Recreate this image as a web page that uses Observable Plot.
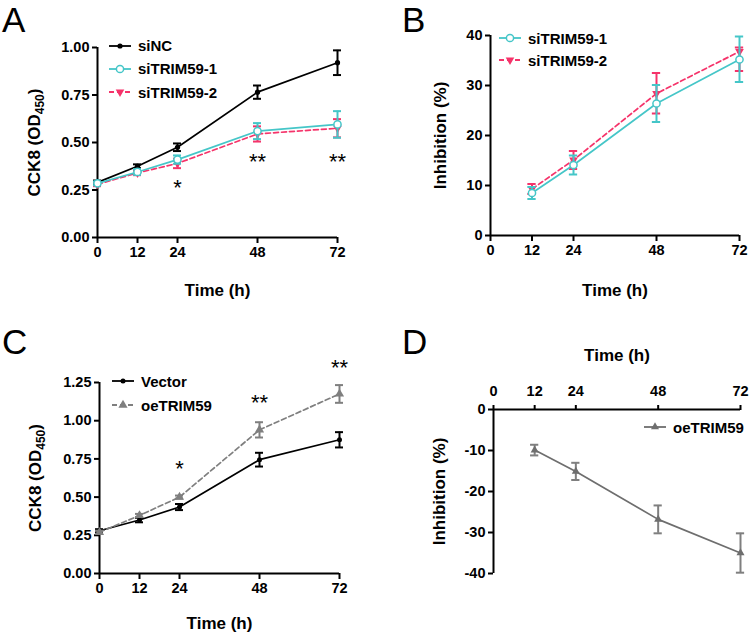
<!DOCTYPE html>
<html>
<head>
<meta charset="utf-8">
<script src="https://cdn.jsdelivr.net/npm/d3@7"></script>
<script src="https://cdn.jsdelivr.net/npm/@observablehq/plot@0.6"></script>
<style>
  html, body { margin: 0; padding: 0; background: #fff; }
  #root { position: relative; width: 750px; height: 633px; overflow: hidden; font-family: "Liberation Sans", Arial, sans-serif; }
  .panel { position: absolute; }
  .letter { position: absolute; font-size: 35px; font-weight: normal; line-height: 40px; color: #000; z-index: 2; }
  .legend { position: absolute; font-weight: bold; font-size: 15px; color: #000; z-index: 2; }
  .legend .row { display: flex; align-items: center; }
  .legend svg { margin-right: 7px; overflow: visible; }
</style>
</head>
<body>
<div id="root"></div>
<script>
// ---------- Data ----------
const timeA = [0, 12, 24, 48, 72];
const siNC = [0.29, 0.375, 0.475, 0.765, 0.92];
const siNC_sd = [0.01, 0.01, 0.02, 0.035, 0.065];
const siTRIM59_1 = [0.285, 0.345, 0.41, 0.56, 0.595];
const siTRIM59_1_sd = [0.01, 0.015, 0.022, 0.042, 0.07];
const siTRIM59_2 = [0.28, 0.34, 0.39, 0.545, 0.575];
const siTRIM59_2_sd = [0.01, 0.012, 0.025, 0.04, 0.048];
const starTimesA = [24, 48, 72];
const starYA = [0.26, 0.40, 0.40];
const starLabelsA = ["*", "**", "**"];

const timeB = [12, 24, 48, 72];
const inh1 = [8.5, 14.1, 26.4, 35.2];
const inh1_lo = [7.3, 12.2, 22.7, 30.7];
const inh1_hi = [9.7, 16.0, 30.1, 39.8];
const inh2 = [9.3, 15.1, 28.4, 36.8];
const inh2_lo = [8.3, 13.3, 24.4, 32.9];
const inh2_hi = [10.3, 16.9, 32.5, 37.6];

const timeC = [0, 12, 24, 48, 72];
const vector = [0.28, 0.35, 0.435, 0.745, 0.875];
const vector_sd = [0.01, 0.015, 0.02, 0.045, 0.05];
const oeTRIM59 = [0.27, 0.38, 0.50, 0.94, 1.175];
const oeTRIM59_sd = [0.01, 0.01, 0.01, 0.05, 0.058];
const starTimesC = [24, 48, 72];
const starYC = [0.685, 1.117, 1.348];
const starLabelsC = ["*", "**", "**"];

const timeD = [12, 24, 48, 72];
const inhD = [-9.9, -15.1, -26.8, -35.0];
const inhD_sd = [1.3, 2.1, 3.4, 4.8];

const timeTicks = [0, 12, 24, 48, 72];
const ticksA = [0, 0.25, 0.5, 0.75, 1.0];
const ticksB = [0, 10, 20, 30, 40];
const ticksC = [0, 0.25, 0.5, 0.75, 1.0, 1.25];
const ticksD = [-40, -30, -20, -10, 0];

// colours
const BLACK = "#000000", CYAN = "#45c6c8", PINK = "#f5336a", GREY = "#7f7f7f", DGREY = "#6e6e6e";

// ---------- helpers ----------
const sym = (t, v, sd) => t.map((x, i) => ({t: x, v: v[i], lo: v[i] - sd[i], hi: v[i] + sd[i]}));
const asym = (t, v, lo, hi) => t.map((x, i) => ({t: x, v: v[i], lo: lo[i], hi: hi[i]}));
const stars = (t, y, l) => t.map((x, i) => ({t: x, y: y[i], label: l[i]}));
const CAP = 1.2;

function seriesMarks(data, s) {
  return [
    Plot.line(data, {x: "t", y: "v", stroke: s.color, strokeWidth: 1.7, strokeDasharray: s.dash || null}),
    Plot.ruleX(data, {x: "t", y1: "lo", y2: "hi", stroke: s.errColor || s.color, strokeWidth: 2}),
    Plot.ruleY(data, {y: "lo", x1: d => d.t - CAP, x2: d => d.t + CAP, stroke: s.errColor || s.color, strokeWidth: 2}),
    Plot.ruleY(data, {y: "hi", x1: d => d.t - CAP, x2: d => d.t + CAP, stroke: s.errColor || s.color, strokeWidth: 2}),
    Plot.dot(data, {x: "t", y: "v", symbol: s.symbol, r: s.r, fill: s.open ? "white" : s.color,
      stroke: s.color, strokeWidth: s.open ? 1.5 : 0, rotate: s.rotate || 0})
  ];
}

function makePlot(o) {
  const xAnchor = o.xAnchor || "bottom";
  const svg = Plot.plot({
    width: o.width, height: o.height,
    marginLeft: o.ml, marginRight: o.mr, marginTop: o.mt, marginBottom: o.mb,
    style: {fontFamily: '"Liberation Sans", Arial, sans-serif', fontWeight: "bold", fontSize: "14.5px", color: "#000", background: "transparent", overflow: "visible"},
    x: {domain: [0, 72]},
    y: {domain: o.yDomain},
    marks: [
      Plot.axisX(timeTicks, {anchor: xAnchor, tickSize: o.xTickSize || 6, tickPadding: o.xTickPadding || 3, strokeWidth: 2, label: "Time (h)", labelAnchor: "center", labelOffset: o.xLabelOffset, tickFormat: d => String(d)}),
      Plot.axisY(o.yTicks, {anchor: "left", tickSize: 5, tickPadding: 3, strokeWidth: 2, label: o.yLabel, labelAnchor: "center", labelOffset: o.yLabelOffset, tickFormat: o.yFormat}),
      Plot.ruleX([0], {stroke: "#000", strokeWidth: 2}),
      Plot.ruleY([o.xAxisAt], {stroke: "#000", strokeWidth: 2}),
      ...o.marks
    ]
  });
  // axis titles: no arrows, larger type
  const xl = svg.querySelector('g[aria-label="x-axis label"] text');
  if (xl) { xl.style.fontSize = "17px"; xl.textContent = "Time (h)"; }
  const yl = svg.querySelector('g[aria-label="y-axis label"] text');
  if (yl) {
    yl.style.fontSize = "17px";
    if (o.yLabelHTML) yl.innerHTML = o.yLabelHTML;
    else yl.textContent = o.yLabel;
  }
  return svg;
}

function legend(items, left, top, rowH) {
  const div = document.createElement("div");
  div.className = "legend";
  div.style.left = left + "px";
  div.style.top = top + "px";
  for (const it of items) {
    const row = document.createElement("div");
    row.className = "row";
    row.style.height = rowH + "px";
    const s = d3.create("svg").attr("width", 22).attr("height", 12);
    s.append("line").attr("x1", 0).attr("x2", 22).attr("y1", 6).attr("y2", 6)
      .attr("stroke", it.color).attr("stroke-width", 1.8).attr("stroke-dasharray", it.dash || null);
    const symType = it.symbol === "circle" ? d3.symbolCircle : d3.symbolTriangle;
    s.append("path").attr("d", d3.symbol(symType, Math.PI * it.r * it.r)())
      .attr("transform", `translate(11,6) rotate(${it.rotate || 0})`)
      .attr("fill", it.open ? "white" : it.color).attr("stroke", it.color).attr("stroke-width", it.open ? 1.5 : 0);
    row.appendChild(s.node());
    const t = document.createElement("span");
    t.textContent = it.label;
    row.appendChild(t);
    div.appendChild(row);
  }
  return div;
}

function panel(x, y, letter, lx, ly) {
  const d = document.createElement("div");
  d.className = "panel";
  d.style.left = x + "px"; d.style.top = y + "px";
  const L = document.createElement("div");
  L.className = "letter"; L.textContent = letter;
  L.style.left = lx + "px"; L.style.top = ly + "px";
  d.appendChild(L);
  document.getElementById("root").appendChild(d);
  return d;
}

const OD_LABEL = 'CCK8 (OD<tspan dy="4" font-size="12">450</tspan><tspan dy="-4">)</tspan>';

// series styles
const sNC = {color: BLACK, symbol: "circle", r: 2.6};
const s1 = {color: CYAN, symbol: "circle", r: 3.6, open: true};
const s2 = {color: PINK, symbol: "triangle", r: 3.2, rotate: 180, dash: "5,3"};
const sVec = {color: BLACK, symbol: "circle", r: 2.5};
const sOe = {color: GREY, symbol: "triangle", r: 3.4, dash: "5,3"};
const sD = {color: DGREY, symbol: "triangle", r: 3.0, errColor: GREY};

// ---------- Panel A ----------
{
  const p = panel(0, 0, "A", 2, 0);
  const svg = makePlot({
    width: 375, height: 310, ml: 97, mr: 38, mt: 47, mb: 73,
    yDomain: [0, 1], yTicks: ticksA, yFormat: d3.format(".2f"), xAxisAt: 0,
    yLabel: "CCK8 (OD450)", yLabelHTML: OD_LABEL, yLabelOffset: 70, xLabelOffset: 58,
    marks: [
      ...seriesMarks(sym(timeA, siNC, siNC_sd), sNC),
      ...seriesMarks(sym(timeA, siTRIM59_2, siTRIM59_2_sd), s2),
      ...seriesMarks(sym(timeA, siTRIM59_1, siTRIM59_1_sd), s1),
      Plot.text(stars(starTimesA, starYA, starLabelsA), {x: "t", y: "y", text: "label", fontSize: 22, fontWeight: "normal"})
    ]
  });
  p.appendChild(svg);
  p.appendChild(legend([
    {label: "siNC", ...sNC},
    {label: "siTRIM59-1", ...s1},
    {label: "siTRIM59-2", ...s2}
  ], 109, 34, 23.3));
}

// ---------- Panel B ----------
{
  const p = panel(375, 0, "B", 27, 0);
  const svg = makePlot({
    width: 375, height: 310, ml: 115, mr: 11, mt: 35, mb: 75,
    yDomain: [0, 40], yTicks: ticksB, yFormat: d => String(d), xAxisAt: 0,
    yLabel: "Inhibition (%)", yLabelOffset: 57, xLabelOffset: 60,
    marks: [
      ...seriesMarks(asym(timeB, inh2, inh2_lo, inh2_hi), s2),
      ...seriesMarks(asym(timeB, inh1, inh1_lo, inh1_hi), s1)
    ]
  });
  p.appendChild(svg);
  p.appendChild(legend([
    {label: "siTRIM59-1", ...s1},
    {label: "siTRIM59-2", ...s2}
  ], 124, 27, 22));
}

// ---------- Panel C ----------
{
  const p = panel(0, 310, "C", 2, 12);
  const svg = makePlot({
    width: 375, height: 323, ml: 99, mr: 36, mt: 72, mb: 60,
    yDomain: [0, 1.25], yTicks: ticksC, yFormat: d3.format(".2f"), xAxisAt: 0,
    yLabel: "CCK8 (OD450)", yLabelHTML: OD_LABEL, yLabelOffset: 71, xLabelOffset: 55,
    marks: [
      ...seriesMarks(sym(timeC, vector, vector_sd), sVec),
      ...seriesMarks(sym(timeC, oeTRIM59, oeTRIM59_sd), sOe),
      Plot.text(stars(starTimesC, starYC, starLabelsC), {x: "t", y: "y", text: "label", fontSize: 22, fontWeight: "normal"})
    ]
  });
  p.appendChild(svg);
  p.appendChild(legend([
    {label: "Vector", ...sVec},
    {label: "oeTRIM59", ...sOe}
  ], 112, 59, 24));
}

// ---------- Panel D ----------
{
  const p = panel(375, 310, "D", 27, 12);
  const svg = makePlot({
    width: 375, height: 323, ml: 118, mr: 10, mt: 99, mb: 60, xAnchor: "top",
    xTickSize: 5, xTickPadding: 9,
    yDomain: [-40, 0], yTicks: ticksD, yFormat: d => String(d), xAxisAt: 0,
    yLabel: "Inhibition (%)", yLabelOffset: 61, xLabelOffset: 61,
    marks: [
      ...seriesMarks(sym(timeD, inhD, inhD_sd), sD)
    ]
  });
  p.appendChild(svg);
  p.appendChild(legend([
    {label: "oeTRIM59", ...sD}
  ], 269, 106, 22));
}
</script>
</body>
</html>
